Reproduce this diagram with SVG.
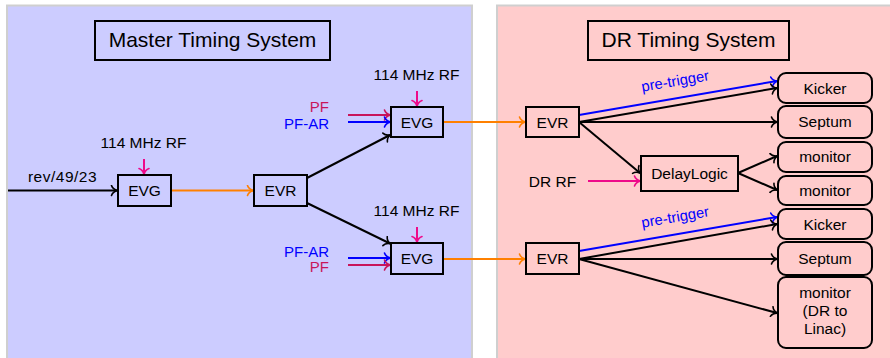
<svg xmlns="http://www.w3.org/2000/svg" width="890" height="358" viewBox="0 0 890 358">
<style>
text{font-family:"Liberation Sans",Arial,sans-serif;font-size:15.5px;fill:#000}
.t{font-size:21px}
.c{text-anchor:middle}
.e{text-anchor:end}
.box{fill:none;stroke:#000;stroke-width:2}
.rbox{fill:none;stroke:#000;stroke-width:2}
.k{stroke:#000;stroke-width:2;fill:none;marker-end:url(#ak)}
.o{stroke:#ff8000;stroke-width:2;fill:none;marker-end:url(#ao)}
.b{stroke:#0000ff;stroke-width:2;fill:none;marker-end:url(#ab)}
.r{stroke:#c8155a;stroke-width:2;fill:none;marker-end:url(#ar)}
.m{stroke:#ee0a8a;stroke-width:2;fill:none;marker-end:url(#am)}
.blue{fill:#0000ff}
.crim{fill:#c8155a}
.pf{font-size:15px}
.pt{fill:#0000ff;font-size:14.8px}
</style>
<defs>
<marker id="ak" viewBox="-7 -6 9 12" refX="0" refY="0" markerWidth="9" markerHeight="12" markerUnits="userSpaceOnUse" orient="auto"><path d="M-5.5 -5 C-4.5 -2 -1.5 -0.5 0.5 0 C-1.5 0.5 -4.5 2 -5.5 5" fill="none" stroke="#000" stroke-width="1.6" stroke-linecap="round"/></marker>
<marker id="ao" viewBox="-7 -6 9 12" refX="0" refY="0" markerWidth="9" markerHeight="12" markerUnits="userSpaceOnUse" orient="auto"><path d="M-5.5 -5 C-4.5 -2 -1.5 -0.5 0.5 0 C-1.5 0.5 -4.5 2 -5.5 5" fill="none" stroke="#ff8000" stroke-width="1.6" stroke-linecap="round"/></marker>
<marker id="ab" viewBox="-7 -6 9 12" refX="0" refY="0" markerWidth="9" markerHeight="12" markerUnits="userSpaceOnUse" orient="auto"><path d="M-5.5 -5 C-4.5 -2 -1.5 -0.5 0.5 0 C-1.5 0.5 -4.5 2 -5.5 5" fill="none" stroke="#0000ff" stroke-width="1.6" stroke-linecap="round"/></marker>
<marker id="ar" viewBox="-7 -6 9 12" refX="0" refY="0" markerWidth="9" markerHeight="12" markerUnits="userSpaceOnUse" orient="auto"><path d="M-5.5 -5 C-4.5 -2 -1.5 -0.5 0.5 0 C-1.5 0.5 -4.5 2 -5.5 5" fill="none" stroke="#c8155a" stroke-width="1.6" stroke-linecap="round"/></marker>
<marker id="am" viewBox="-7 -6 9 12" refX="0" refY="0" markerWidth="9" markerHeight="12" markerUnits="userSpaceOnUse" orient="auto"><path d="M-5.5 -5 C-4.5 -2 -1.5 -0.5 0.5 0 C-1.5 0.5 -4.5 2 -5.5 5" fill="none" stroke="#ee0a8a" stroke-width="1.6" stroke-linecap="round"/></marker>
</defs>
<rect width="890" height="358" fill="#fff"/>
<g id="panels">
<rect x="7" y="5.5" width="465" height="356" fill="#ccccff" stroke="#cfcfcf" stroke-width="2"/>
<rect x="497" y="5.5" width="396" height="356" fill="#ffcccc" stroke="#cfcfcf" stroke-width="2"/>
</g>
<g id="title-master"><rect class="box" x="95" y="21" width="235" height="39"/><text class="t c" x="212.5" y="47">Master Timing System</text></g>
<g id="title-dr"><rect class="box" x="588" y="21" width="201" height="39"/><text class="t c" x="688.5" y="47">DR Timing System</text></g>
<g id="connectors">
<path class="k" d="M8 190.5H117"/>
<path class="o" d="M171 190.5H253"/>
<path class="k" d="M307 178L390 135"/>
<path class="k" d="M307 203L390 243.5"/>
<path class="m" d="M144 159V174"/>
<path class="m" d="M417 91V106"/>
<path class="m" d="M417 227V242"/>
<path class="r" d="M348 115H390"/>
<path class="b" d="M348 122H390"/>
<path class="b" d="M348 258H390"/>
<path class="r" d="M348 265H390"/>
<path class="o" d="M443 122H525"/>
<path class="o" d="M443 259H525"/>
<path class="m" d="M588 181H640"/>
<path class="b" d="M579 115L777 81"/>
<path class="k" d="M579 122L777 88"/>
<path class="k" d="M579 122H777"/>
<path class="k" d="M579 122L640 173"/>
<path class="k" d="M738 173L777 156"/>
<path class="k" d="M738 173L777 190"/>
<path class="b" d="M579 251L777 217"/>
<path class="k" d="M579 259L777 224"/>
<path class="k" d="M579 259H777"/>
<path class="k" d="M579 259L777 313"/>
</g>
<g id="labels">
<text class="c" x="62.5" y="182" style="letter-spacing:0.5px">rev/49/23</text>
<text class="c" x="143.5" y="148">114 MHz RF</text>
<text class="c" x="416.5" y="80">114 MHz RF</text>
<text class="c" x="416.5" y="216">114 MHz RF</text>
<text class="e crim pf" x="329" y="112">PF</text>
<text class="e blue pf" x="329" y="128.5">PF-AR</text>
<text class="e blue pf" x="329" y="256.5">PF-AR</text>
<text class="e crim pf" x="329" y="272">PF</text>
<text class="c" x="552.5" y="186.5">DR RF</text>
<text class="c pt" x="676" y="86" transform="rotate(-9.7 676 86)">pre-trigger</text>
<text class="c pt" x="676" y="222" transform="rotate(-9.7 676 222)">pre-trigger</text>
</g>
<g id="evg-main"><rect class="box" x="118" y="175" width="53" height="31"/><text class="c" x="144.5" y="196">EVG</text></g>
<g id="evr-main"><rect class="box" x="254" y="175" width="53" height="31"/><text class="c" x="280.5" y="196">EVR</text></g>
<g id="evg-pf"><rect class="box" x="391" y="107" width="52" height="30"/><text class="c" x="417" y="128">EVG</text></g>
<g id="evg-pfar"><rect class="box" x="391" y="243" width="52" height="31"/><text class="c" x="417" y="264">EVG</text></g>
<g id="evr-dr1"><rect class="box" x="526" y="107" width="53" height="30"/><text class="c" x="552.5" y="128">EVR</text></g>
<g id="evr-dr2"><rect class="box" x="526" y="243" width="53" height="31"/><text class="c" x="552.5" y="264">EVR</text></g>
<g id="delaylogic"><rect class="box" x="641" y="156" width="97" height="35"/><text class="c" x="689.5" y="179">DelayLogic</text></g>
<g id="kicker1"><rect class="rbox" x="778" y="73" width="94" height="30" rx="8"/><text class="c" x="825" y="93.5">Kicker</text></g>
<g id="septum1"><rect class="rbox" x="778" y="106" width="94" height="32" rx="8"/><text class="c" x="825" y="127">Septum</text></g>
<g id="monitor1"><rect class="rbox" x="778" y="142" width="94" height="30" rx="8"/><text class="c" x="825" y="162">monitor</text></g>
<g id="monitor2"><rect class="rbox" x="778" y="176" width="94" height="29" rx="8"/><text class="c" x="825" y="195.5">monitor</text></g>
<g id="kicker2"><rect class="rbox" x="778" y="209" width="94" height="30" rx="8"/><text class="c" x="825" y="229.5">Kicker</text></g>
<g id="septum2"><rect class="rbox" x="778" y="242" width="94" height="33" rx="8"/><text class="c" x="825" y="263.5">Septum</text></g>
<g id="monitor3"><rect class="rbox" x="778" y="277" width="94" height="71" rx="8"/><text class="c" x="825" y="298">monitor</text><text class="c" x="825" y="316">(DR to</text><text class="c" x="825" y="333.5">Linac)</text></g>
</svg>
